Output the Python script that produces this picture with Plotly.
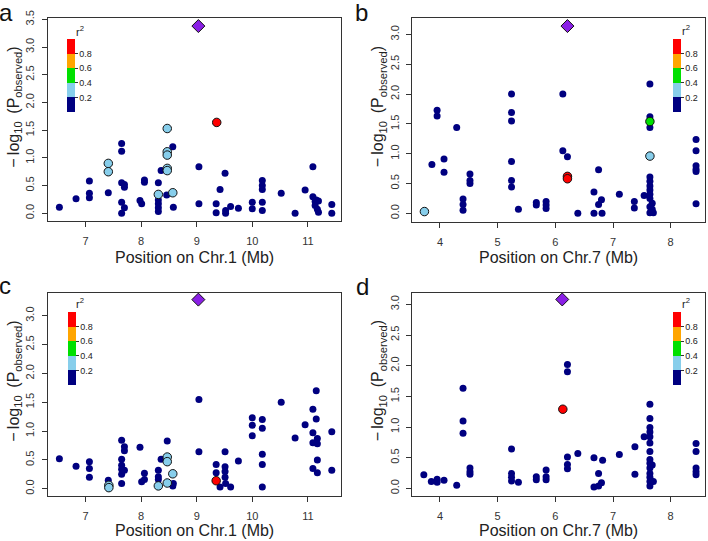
import plotly.graph_objects as go

W, H = 708, 541
FONT = "Arial, Liberation Sans, sans-serif"

# ---------------- data ----------------
# panel a (Chr.1)
a_pos = [6.53, 6.83, 7.07, 7.07, 7.07, 7.41, 7.65, 7.65, 7.65, 7.65, 7.65, 7.70, 7.70, 7.70, 7.98, 8.01,
         8.06, 8.06, 8.31, 8.31, 8.31, 8.31, 8.31, 8.36, 8.46, 8.57, 8.58, 9.04, 9.04, 9.35, 9.35, 9.42,
         9.51, 9.52, 9.52, 9.61, 9.75, 10.0, 10.0, 10.18, 10.18, 10.18, 10.18, 10.18, 10.52, 10.77, 10.95,
         11.09, 11.09, 11.13, 11.13, 11.15, 11.17, 11.19, 11.19, 11.43, 11.43,
         7.41, 7.41, 8.31, 8.47, 8.47, 8.47, 8.47, 8.47, 8.57,
         9.36]
a_logp = [0.11, 0.26, 0.58, 0.36, 0.28, 0.37, 1.26, 1.12, 0.55, 0.20, 0.00, 0.52, 0.47, 0.10, 0.23, 0.17,
          0.60, 0.56, 0.55, 0.24, 0.17, 0.10, 0.03, 0.77, 0.33, 1.20, 0.11, 0.84, 0.17, 0.17, 0.01, 0.43,
          0.72, 0.05, 0.00, 0.12, 0.09, 0.20, 0.08, 0.59, 0.50, 0.43, 0.20, 0.05, 0.36, 0.00, 0.42,
          0.84, 0.30, 0.21, 0.14, 0.24, 0.07, 0.02, 0.22, 0.16, 0.00,
          0.90, 0.75, 0.34, 1.53, 1.11, 1.05, 0.81, 0.77, 0.37,
          1.64]
a_r2 = [0.1] * 57 + [0.3] * 9 + [0.9]
a_lead_pos, a_lead_logp = [9.03], [3.38]

# panel b (Chr.7)
b_pos = [3.86, 3.95, 3.95, 4.07, 4.07, 4.29, 4.40, 4.40, 4.40, 4.52, 4.52, 4.52, 5.24, 5.24, 5.24, 5.24,
         5.24, 5.24, 5.36, 5.67, 5.67, 5.84, 5.84, 5.84, 6.13, 6.13, 6.21, 6.39, 6.67, 6.67, 6.75, 6.75,
         6.80, 6.81, 7.11, 7.37, 7.37, 7.54,
         7.64, 7.64, 7.64, 7.64, 7.64, 7.64, 7.64, 7.64, 7.64, 7.64, 7.68, 7.64, 7.68, 7.64, 7.70,
         8.44, 8.44, 8.44, 8.44, 8.44, 8.44,
         3.73, 7.64,
         7.64,
         6.21, 6.21]
b_logp = [0.82, 1.73, 1.63, 0.91, 0.69, 1.44, 0.24, 0.15, 0.05, 0.66, 0.55, 0.50, 2.00, 1.69, 1.55, 0.87,
          0.55, 0.44, 0.07, 0.18, 0.14, 0.20, 0.14, 0.08, 2.00, 1.05, 0.95, 0.00, 0.36, 0.00, 0.73, 0.15,
          0.23, 0.00, 0.32, 0.20, 0.09, 0.30,
          2.17, 1.62, 1.56, 1.44, 0.61, 0.54, 0.46, 0.39, 0.32, 0.25, 0.17, 0.11, 0.07, 0.01, 0.01,
          1.24, 1.05, 0.80, 0.74, 0.70, 0.16,
          0.03, 0.96,
          1.54,
          0.62, 0.58]
b_r2 = [0.1] * 59 + [0.3] * 2 + [0.5] + [0.9] * 2
b_lead_pos, b_lead_logp = [6.21], [3.14]

# panel c (Chr.1)
c_pos = [6.53, 6.83, 7.07, 7.07, 7.07, 7.41, 7.65, 7.65, 7.65, 7.65, 7.65, 7.65, 7.70, 7.70, 7.70, 7.98,
         8.01, 8.06, 8.06, 8.31, 8.31, 8.31, 8.36, 8.47, 8.57, 8.58, 9.04, 9.04, 9.35, 9.35, 9.42, 9.51,
         9.51, 9.51, 9.51, 9.52, 9.61, 9.75, 10.0, 10.0, 10.0, 10.18, 10.18, 10.18, 10.18, 10.18, 10.52,
         10.77, 10.95, 11.09, 11.09, 11.09, 11.09, 11.15, 11.15, 11.17, 11.17, 11.17, 11.17, 11.43, 11.43,
         7.42, 7.42, 8.31, 8.47, 8.47, 8.47, 8.57,
         9.35]
c_logp = [0.52, 0.39, 0.47, 0.35, 0.20, 0.15, 0.84, 0.51, 0.41, 0.34, 0.25, 0.09, 0.73, 0.66, 0.32, 0.72,
          0.12, 0.27, 0.16, 0.32, 0.21, 0.16, 0.51, 0.83, 0.05, 0.09, 1.55, 0.64, 0.42, 0.28, 0.03, 0.64,
          0.38, 0.30, 0.20, 0.09, 0.03, 0.48, 1.23, 1.10, 0.92, 1.20, 1.05, 0.60, 0.42, 0.03, 1.50,
          0.88, 1.11, 1.38, 0.97, 0.80, 0.35, 1.70, 1.21, 0.87, 0.78, 0.50, 0.28, 0.99, 0.32,
          0.06, 0.02, 0.05, 0.55, 0.47, 0.10, 0.26,
          0.14]
c_r2 = [0.1] * 61 + [0.3] * 7 + [0.9]
c_lead_pos, c_lead_logp = [9.03], [3.28]

# panel d (Chr.7)
d_pos = [3.72, 3.85, 3.95, 3.95, 4.07, 4.29, 4.40, 4.40, 4.40, 4.52, 4.52, 4.52, 5.24, 5.24, 5.24, 5.24,
         5.36, 5.67, 5.67, 5.84, 5.84, 5.84, 6.21, 6.21, 6.21, 6.21, 6.21, 6.39, 6.67, 6.67, 6.75, 6.75,
         6.80, 6.82, 7.11, 7.38, 7.38, 7.54,
         7.64, 7.64, 7.64, 7.64, 7.64, 7.64, 7.64, 7.64, 7.64, 7.68, 7.64, 7.64, 7.64, 7.64, 7.70, 7.64,
         8.44, 8.44, 8.44, 8.44, 8.44,
         6.13]
d_logp = [0.22, 0.11, 0.15, 0.10, 0.13, 0.05, 1.63, 1.10, 0.90, 0.33, 0.27, 0.23, 0.64, 0.24, 0.18, 0.12,
          0.10, 0.19, 0.14, 0.30, 0.19, 0.14, 2.02, 1.90, 0.51, 0.39, 0.32, 0.57, 0.50, 0.02, 0.24, 0.04,
          0.09, 0.46, 0.55, 0.68, 0.23, 0.84,
          1.37, 1.14, 0.99, 0.92, 0.84, 0.74, 0.60, 0.47, 0.41, 0.38, 0.33, 0.24, 0.18, 0.11, 0.11, 0.04,
          0.73, 0.60, 0.33, 0.27, 0.22,
          1.29]
d_r2 = [0.1] * 59 + [0.9]
d_lead_pos, d_lead_logp = [6.12], [3.08]

r2_ticks = [0.2, 0.4, 0.6, 0.8]
x_title_a = "Position on Chr.1 (Mb)"
x_title_b = "Position on Chr.7 (Mb)"
y_title = "\u2212\u2009log<sub>10</sub>\u2009 (P<sub>observed</sub>)"

# ---------------- styling ----------------
NAVY, SKY, GREEN, ORANGE, RED, PURPLE = "#000080", "#87CEEB", "#00E000", "#FFA500", "#FF0000", "#8A1FE6"
cscale = [[0, NAVY], [0.2, NAVY], [0.2, SKY], [0.4, SKY], [0.4, GREEN], [0.6, GREEN],
          [0.6, ORANGE], [0.8, ORANGE], [0.8, RED], [1, RED]]

def px(p):
    return p / W

def py(p):
    return 1 - p / H

panels = [
    dict(pos=a_pos, logp=a_logp, r2=a_r2, lx=a_lead_pos, ly=a_lead_logp, xd=(47.7, 340.7), yd=(18.3, 221),
         xr=[6.32, 11.59], yr=[-0.14, 3.52], ymax=3.5, xt=[7, 8, 9, 10, 11], cb=(67, 39), r2l=(80, 31),
         letter=("a", 6, 13), xtitle=x_title_a, xty=257, yty=107),
    dict(pos=b_pos, logp=b_logp, r2=b_r2, lx=b_lead_pos, ly=b_lead_logp, xd=(412.3, 704.7), yd=(18.3, 221.7),
         xr=[3.52, 8.59], yr=[-0.14, 3.27], ymax=3.0, xt=[4, 5, 6, 7, 8], cb=(673.3, 39), r2l=(686, 30),
         letter=("b", 361, 13), xtitle=x_title_b, xty=257, yty=107),
    dict(pos=c_pos, logp=c_logp, r2=c_r2, lx=c_lead_pos, ly=c_lead_logp, xd=(47.7, 340.7), yd=(292.7, 495.7),
         xr=[6.32, 11.59], yr=[-0.12, 3.40], ymax=3.0, xt=[7, 8, 9, 10, 11], cb=(67.5, 312), r2l=(80, 303),
         letter=("c", 5, 285), xtitle=x_title_a, xty=530, yty=381),
    dict(pos=d_pos, logp=d_logp, r2=d_r2, lx=d_lead_pos, ly=d_lead_logp, xd=(412.3, 704.7), yd=(292.7, 495.7),
         xr=[3.52, 8.59], yr=[-0.12, 3.19], ymax=3.0, xt=[4, 5, 6, 7, 8], cb=(673.3, 312), r2l=(686, 303),
         letter=("d", 362, 286), xtitle=x_title_b, xty=530, yty=381),
]

fig = go.Figure()
annotations = []
layout = {}

for i, p in enumerate(panels):
    k = "" if i == 0 else str(i + 1)
    xa, ya = "x" + k, "y" + k
    order = sorted(range(len(p["r2"])), key=lambda j: p["r2"][j])
    xs = [p["pos"][j] for j in order]
    ys = [p["logp"][j] for j in order]
    cs = [p["r2"][j] for j in order]
    sizes = [7 if c < 0.2 else 8.5 for c in cs]
    lw = [0 if c < 0.2 else 1 for c in cs]
    fig.add_trace(go.Scatter(
        x=xs, y=ys, mode="markers", xaxis=xa, yaxis=ya, showlegend=False,
        marker=dict(color=cs, colorscale=cscale, cmin=0, cmax=1, size=sizes, opacity=1,
                    line=dict(color="#111111", width=lw),
                    showscale=True,
                    colorbar=dict(x=px(p["cb"][0]), xanchor="left", y=py(p["cb"][1]), yanchor="top",
                                  len=73, lenmode="pixels", thickness=8, thicknessmode="pixels",
                                  xpad=0, ypad=0, outlinewidth=0, tickvals=r2_ticks,
                                  ticktext=["%.1f" % t for t in r2_ticks], ticks="outside", ticklen=3,
                                  tickcolor="#333", tickfont=dict(family=FONT, size=9, color="#222"))),
    ))
    fig.add_trace(go.Scatter(
        x=p["lx"], y=p["ly"], mode="markers", xaxis=xa, yaxis=ya, showlegend=False,
        marker=dict(symbol="diamond", color=PURPLE, size=10, opacity=1, line=dict(color="#111111", width=1)),
    ))
    axis_common = dict(showline=True, mirror=True, linecolor="#333", linewidth=1.2, ticks="outside",
                       ticklen=5, tickwidth=1, tickcolor="#333", showgrid=False, zeroline=False,
                       tickfont=dict(family=FONT, size=11, color="#333"), automargin=False)
    layout["xaxis" + k] = dict(domain=[px(p["xd"][0]), px(p["xd"][1])], range=p["xr"], anchor=ya,
                               tickvals=p["xt"], ticklabelstandoff=5, **axis_common)
    yt = [round(0.5 * n, 1) for n in range(int(p["ymax"] / 0.5) + 1)]
    layout["yaxis" + k] = dict(domain=[py(p["yd"][1]), py(p["yd"][0])], range=p["yr"], anchor=xa,
                               tickvals=yt, ticktext=["%.1f" % v for v in yt], tickangle=-90,
                               ticklabelstandoff=3, **axis_common)
    cx = (p["xd"][0] + p["xd"][1]) / 2
    annotations.append(dict(text=p["xtitle"], x=px(cx), y=py(p["xty"]), xref="paper", yref="paper",
                            showarrow=False, xanchor="center", yanchor="middle",
                            font=dict(family=FONT, size=16, color="#222")))
    annotations.append(dict(text=y_title, x=px(p["xd"][0] - 34), y=py(p["yty"]), xref="paper", yref="paper",
                            showarrow=False, xanchor="center", yanchor="middle", textangle=-90,
                            font=dict(family=FONT, size=16, color="#222")))
    annotations.append(dict(text="r<sup>2</sup>", x=px(p["r2l"][0]), y=py(p["r2l"][1]), xref="paper",
                            yref="paper", showarrow=False, xanchor="center", yanchor="middle",
                            font=dict(family=FONT, size=11, color="#222")))
    L, lx, ly = p["letter"]
    annotations.append(dict(text=L, x=px(lx), y=py(ly), xref="paper", yref="paper", showarrow=False,
                            xanchor="center", yanchor="middle", font=dict(family=FONT, size=24, color="#111")))

fig.update_layout(width=W, height=H, margin=dict(l=0, r=0, t=0, b=0), paper_bgcolor="white",
                  plot_bgcolor="white", annotations=annotations, font=dict(family=FONT), **layout)

fig.write_html("out.html", config={"displayModeBar": False},
               post_script="document.body.style.margin='0';document.body.style.overflow='hidden';")
